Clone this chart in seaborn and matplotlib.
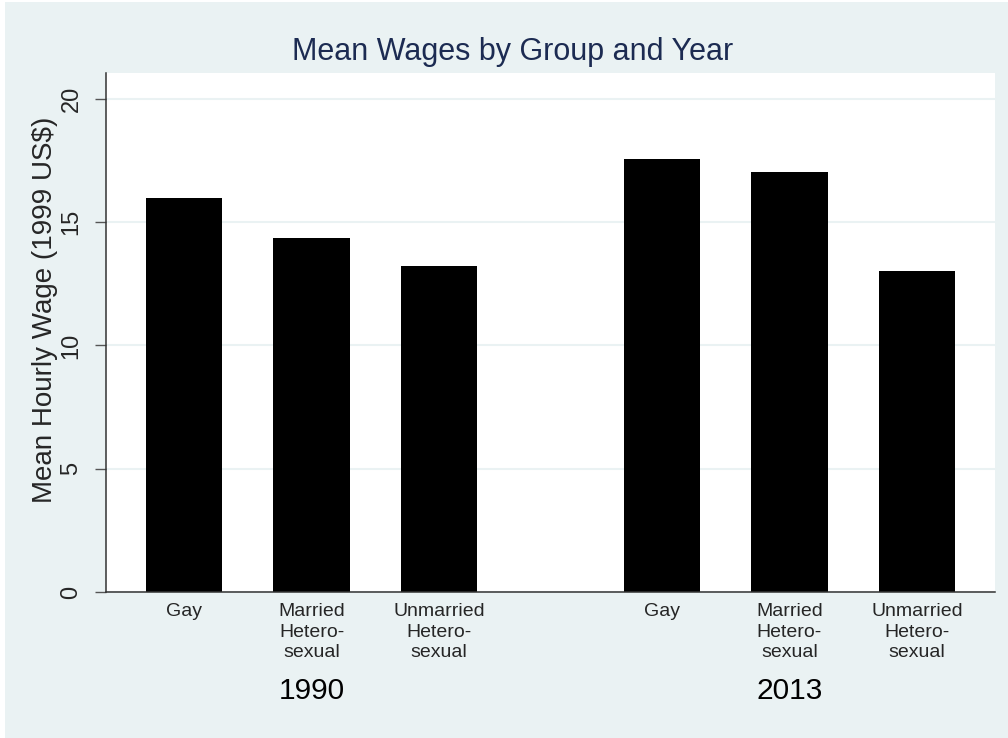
import matplotlib
matplotlib.use("Agg")
import matplotlib.pyplot as plt
import seaborn as sns
import pandas as pd
from matplotlib.patches import Rectangle

# data
years = ["1990", "2013"]
groups = ["Gay", "Married\nHetero-\nsexual", "Unmarried\nHetero-\nsexual"]
wages_1990 = [16.0, 14.37, 13.24]
wages_2013 = [17.57, 17.04, 13.02]
y_ticks = [0, 5, 10, 15, 20]

df = pd.DataFrame({
    "year": [years[0]] * 3 + [years[1]] * 3,
    "group": groups * 2,
    "wage": wages_1990 + wages_2013,
})

bg = "#eaf2f3"
navy = "#1c2b52"

sns.set_style("white")
plt.rcParams["font.family"] = ["Liberation Sans", "DejaVu Sans"]

fig = plt.figure(figsize=(10.08, 7.38), dpi=100, facecolor=bg)
ax = fig.add_axes([106 / 1008, 1 - 592 / 738, (995 - 106) / 1008, (592 - 73) / 738])
ax.set_facecolor("white")

sns.barplot(data=df, x="year", y="wage", hue="group", hue_order=groups,
            order=years, palette=["black"] * 3, width=0.8, gap=0.4,
            linewidth=0, legend=False, ax=ax)

ax.set_xlim(-0.43, 1.43)
ax.set_ylim(0, 21.05)

# group labels under each bar
centers = sorted(p.get_x() + p.get_width() / 2 for p in ax.patches)
ax.set_xticks(centers)
ax.set_xticklabels(groups * 2, fontsize=14, linespacing=1.27, va="top")
ax.tick_params(axis="x", length=0, pad=8)

# year labels under each group
for i, yr in enumerate(years):
    ax.annotate(yr, xy=(i, -99 / 519), xycoords=("data", "axes fraction"),
                ha="center", va="center", fontsize=21.5, color="black")

ax.set_yticks(y_ticks)
ax.set_yticklabels([str(t) for t in y_ticks], rotation=90, va="center", fontsize=17)
ax.tick_params(axis="y", length=8, width=1, color="#555555", pad=9, left=True)

ax.yaxis.grid(True, color=bg, linewidth=1.5)
ax.set_axisbelow(True)

for s in ["top", "right"]:
    ax.spines[s].set_visible(False)
for s in ["left", "bottom"]:
    ax.spines[s].set_color("#333333")
    ax.spines[s].set_linewidth(1.1)

ax.set_xlabel("")
ax.set_ylabel("Mean Hourly Wage (1999 US$)", fontsize=20)
ax.yaxis.set_label_coords(-0.054, 0.543)

fig.text(0.509, 1 - 60 / 738, "Mean Wages by Group and Year", ha="center",
         va="baseline", fontsize=22, color=navy)

# thin white edge strips as in the reference crop
fig.add_artist(Rectangle((0, 0), 5 / 1008, 1, transform=fig.transFigure,
                         facecolor="white", edgecolor="none"))
fig.add_artist(Rectangle((0, 1 - 2 / 738), 1, 2 / 738, transform=fig.transFigure,
                         facecolor="white", edgecolor="none"))

fig.savefig("out.png", dpi=100, facecolor=bg)
